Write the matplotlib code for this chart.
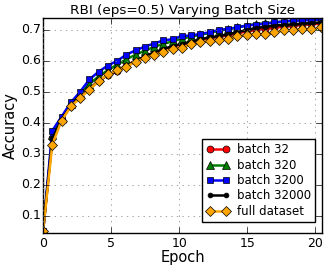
import numpy as np
import matplotlib
matplotlib.use("Agg")
import matplotlib.pyplot as plt

plt.style.use("classic")
plt.rcParams["font.family"] = ["DejaVu Sans"]

step = 0.68
n_points = 31
epochs = [i * step for i in range(n_points)]

batch_32 = [0.05, 0.35, 0.41, 0.455, 0.485, 0.51, 0.535, 0.555, 0.568, 0.585,
            0.60, 0.614, 0.626, 0.637, 0.646, 0.653, 0.66, 0.667, 0.673, 0.678,
            0.683, 0.689, 0.695, 0.70, 0.703, 0.707, 0.71, 0.713, 0.716, 0.718, 0.72]
batch_320 = [0.05, 0.36, 0.415, 0.46, 0.495, 0.525, 0.55, 0.57, 0.588, 0.605,
             0.62, 0.633, 0.645, 0.655, 0.663, 0.672, 0.678, 0.684, 0.69, 0.697,
             0.702, 0.708, 0.714, 0.719, 0.721, 0.724, 0.727, 0.729, 0.731, 0.733, 0.734]
batch_3200 = [0.05, 0.375, 0.42, 0.466, 0.50, 0.54, 0.565, 0.585, 0.60, 0.62,
              0.634, 0.646, 0.656, 0.666, 0.670, 0.68, 0.682, 0.687, 0.692, 0.70,
              0.703, 0.708, 0.714, 0.717, 0.72, 0.724, 0.727, 0.73, 0.73, 0.732, 0.733]
batch_32000 = [0.05, 0.35, 0.41, 0.455, 0.485, 0.51, 0.535, 0.555, 0.568, 0.585,
               0.60, 0.615, 0.627, 0.638, 0.648, 0.655, 0.662, 0.67, 0.676, 0.68,
               0.686, 0.692, 0.70, 0.706, 0.71, 0.714, 0.716, 0.718, 0.72, 0.722, 0.724]
full_dataset = [0.05, 0.33, 0.407, 0.453, 0.48, 0.507, 0.534, 0.557, 0.57, 0.581,
                0.597, 0.609, 0.62, 0.628, 0.639, 0.643, 0.653, 0.66, 0.664, 0.666,
                0.671, 0.679, 0.685, 0.687, 0.687, 0.692, 0.698, 0.70, 0.703, 0.703, 0.708]

series = [
    ("batch 32", batch_32, "red", "o", 5),
    ("batch 320", batch_320, "green", "^", 5.5),
    ("batch 3200", batch_3200, "blue", "s", 5),
    ("batch 32000", batch_32000, "black", "o", 3.5),
    ("full dataset", full_dataset, "orange", "D", 5.5),
]

x_ticks = [0, 5, 10, 15, 20]
y_ticks = [0.1, 0.2, 0.3, 0.4, 0.5, 0.6, 0.7]

fig = plt.figure(figsize=(3.26, 2.70), dpi=100, facecolor="white")
ax = fig.add_axes([0.132, 0.137, 0.856, 0.796])
for label, vals, color, marker, ms in series:
    ax.plot(epochs, vals, color=color, marker=marker, markersize=ms,
            linewidth=1.8, markeredgewidth=0.5, label=label)

ax.set_xlim(0, 20.5)
ax.set_ylim(0.045, 0.738)
ax.set_xticks(x_ticks)
ax.set_yticks(y_ticks)
ax.set_yticklabels([f"{t:.1f}" for t in y_ticks])
ax.tick_params(axis="y", labelsize=9, pad=1.5)
ax.tick_params(axis="x", labelsize=9, pad=3)
ax.grid(True, linestyle=":", color="0.5")
ax.set_xlabel("Epoch", fontsize=10.5, labelpad=0)
ax.set_ylabel("Accuracy", fontsize=10.5, labelpad=2)
ax.set_title("RBI (eps=0.5) Varying Batch Size", fontsize=9.7, pad=3)
leg = ax.legend(loc="lower right", fontsize=8.5, numpoints=2, handlelength=2.0,
                borderpad=0.35, labelspacing=0.2, handletextpad=0.6,
                bbox_to_anchor=(0.996, 0.024))
fig.savefig("out.png", dpi=100, facecolor="white")
